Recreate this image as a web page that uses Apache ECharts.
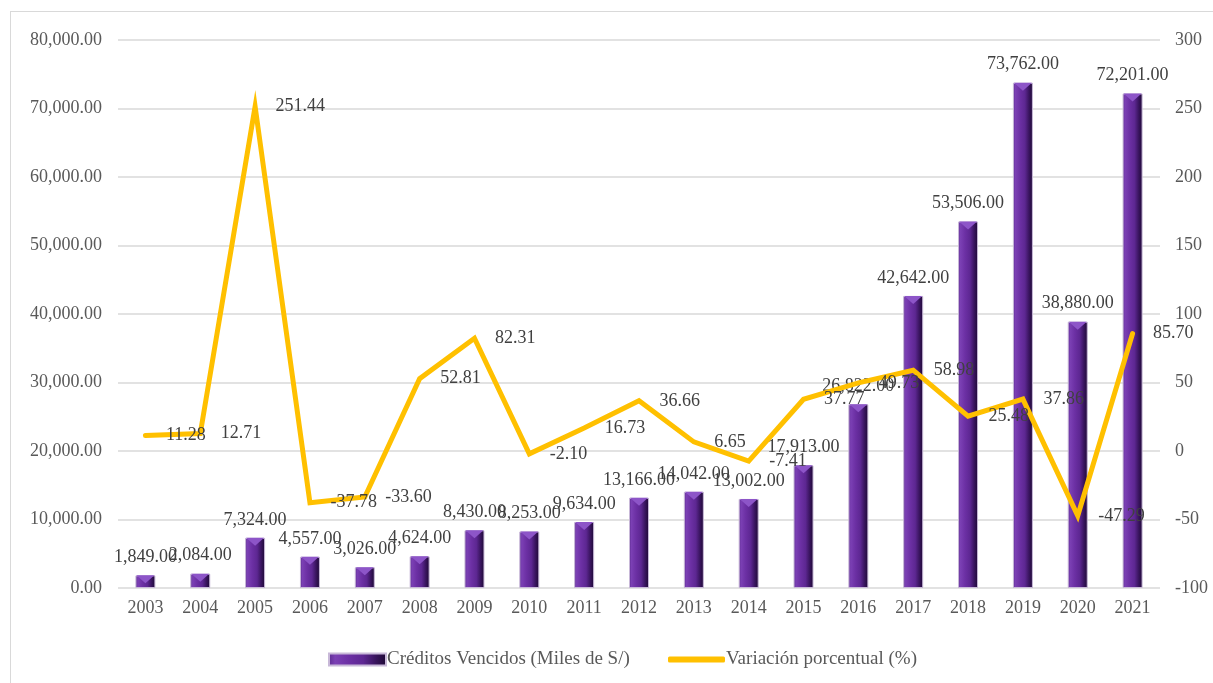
<!DOCTYPE html>
<html>
<head>
<meta charset="utf-8">
<script src="https://cdn.jsdelivr.net/npm/echarts@6/dist/echarts.min.js"></script>
<style>
  html, body { margin: 0; padding: 0; background: #fff; }
  #frame {
    position: absolute; left: 10px; top: 11px; width: 1300px; height: 800px;
    border-left: 1px solid #d9d9d9; border-top: 1px solid #d9d9d9;
  }
  #main { position: absolute; left: 0; top: 0; width: 1213px; height: 683px; }
</style>
</head>
<body>
<div id="frame"></div>
<div id="main"></div>
<script>
// datos
const years = ['2003','2004','2005','2006','2007','2008','2009','2010','2011','2012',
               '2013','2014','2015','2016','2017','2018','2019','2020','2021'];
const creditos = [1849, 2084, 7324, 4557, 3026, 4624, 8430, 8253, 9634, 13166,
                  14042, 13002, 17913, 26822, 42642, 53506, 73762, 38880, 72201];
const variacion = [11.28, 12.71, 251.44, -37.78, -33.60, 52.81, 82.31, -2.10, 16.73, 36.66,
                   6.65, -7.41, 37.77, 49.73, 58.98, 25.48, 37.86, -47.29, 85.70];

const serif = '"Liberation Serif", "DejaVu Serif", serif';
const fmt2 = v => Number(v).toLocaleString('en-US', { minimumFractionDigits: 2, maximumFractionDigits: 2 });

const chart = echarts.init(document.getElementById('main'));

const barFill = new echarts.graphic.LinearGradient(0, 0, 1, 0, [
  { offset: 0, color: '#5a2a8e' },
  { offset: 0.12, color: '#7b40b4' },
  { offset: 0.35, color: '#6c30a4' },
  { offset: 0.6, color: '#5d2792' },
  { offset: 0.8, color: '#3a1560' },
  { offset: 1, color: '#1c0832' }
]);

chart.setOption({
  animation: false,
  textStyle: { fontFamily: serif },
  grid: { left: 118, right: 53, top: 40, bottom: 95 },
  legend: [
    {
      data: ['Créditos Vencidos (Miles de S/)'],
      left: 323, top: 645,
      itemWidth: 57, itemHeight: 12,
      icon: 'rect',
      itemStyle: { color: barFill },
      textStyle: { color: '#595959', fontSize: 19, fontFamily: serif, padding: [0, 0, 0, -4] }
    },
    {
      data: ['Variación porcentual (%)'],
      left: 663, top: 645,
      itemWidth: 57, itemHeight: 6,
      icon: 'roundRect',
      itemStyle: { color: '#FFC000' },
      textStyle: { color: '#595959', fontSize: 19, fontFamily: serif, padding: [0, 0, 0, -4] }
    }
  ],
  xAxis: {
    type: 'category',
    data: years,
    axisLine: { show: false },
    axisTick: { show: false },
    axisLabel: { color: '#595959', fontSize: 18, fontFamily: serif, margin: 11 }
  },
  yAxis: [
    {
      type: 'value', min: 0, max: 80000, interval: 10000,
      axisLabel: { color: '#595959', fontSize: 18, fontFamily: serif, margin: 16, formatter: v => fmt2(v) },
      splitLine: { lineStyle: { color: '#d9d9d9', width: 1.5 } },
      axisLine: { show: false }, axisTick: { show: false }
    },
    {
      type: 'value', min: -100, max: 300, interval: 50,
      axisLabel: { color: '#595959', fontSize: 18, fontFamily: serif, margin: 15 },
      splitLine: { show: false },
      axisLine: { show: false }, axisTick: { show: false }
    }
  ],
  series: [
    {
      name: 'Créditos Vencidos (Miles de S/)',
      type: 'bar',
      data: creditos,
      barWidth: 20,
      itemStyle: { color: barFill, borderColor: '#c8b8d8', borderWidth: 1 },
      label: {
        show: true, position: 'top', distance: 9,
        color: '#404040', fontSize: 18, fontFamily: serif,
        formatter: p => fmt2(p.value)
      },
      z: 2
    },
    {
      name: 'bevel',
      type: 'pictorialBar',
      data: creditos,
      symbol: 'path://M0,0 L20,0 L10,8 Z',
      symbolSize: [18, 8],
      symbolPosition: 'end',
      symbolOffset: [0, 0],
      itemStyle: { color: '#8d55c8' },
      silent: true,
      z: 3
    },
    {
      name: 'Variación porcentual (%)',
      type: 'line',
      yAxisIndex: 1,
      data: variacion,
      symbol: 'circle',
      symbolSize: 1,
      itemStyle: { color: 'rgba(255,192,0,0)' },
      lineStyle: { color: '#FFC000', width: 5, cap: 'round', join: 'miter' },
      label: {
        show: true, position: 'right', distance: 20,
        color: '#404040', fontSize: 18, fontFamily: serif,
        formatter: p => p.value.toFixed(2)
      },
      z: 5
    }
  ]
});
</script>
</body>
</html>
